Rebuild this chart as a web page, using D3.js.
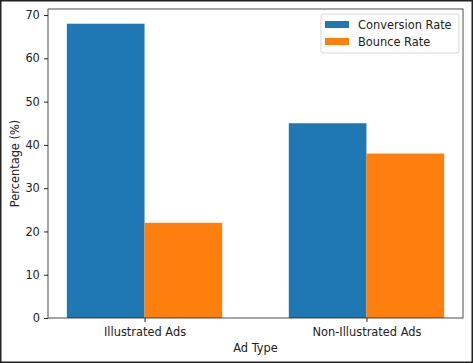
<!DOCTYPE html>
<html>
<head>
<meta charset="utf-8">
<script src="https://cdn.jsdelivr.net/npm/d3@7"></script>
<style>
  body { margin: 0; background: #fff; }
  svg { display: block; font-family: "DejaVu Sans", sans-serif; }
</style>
</head>
<body>
<svg id="chart" width="473" height="363"></svg>
<script>
// 数据
const adTypes = ["Illustrated Ads", "Non-Illustrated Ads"];
const seriesNames = ["Conversion Rate", "Bounce Rate"];
const conversionRate = [68, 45];
const bounceRate = [22, 38];
const yTicks = [0, 10, 20, 30, 40, 50, 60, 70];

const colors = ["#1f77b4", "#ff7f0e"];
const W = 473, H = 363;
const FS = 11.4;
const margin = { left: 48, right: 10, top: 9, bottom: 45 };
const plotW = W - margin.left - margin.right;
const plotH = H - margin.top - margin.bottom;

const svg = d3.select("#chart");

// 外框
svg.append("rect")
    .attr("x", 0.75).attr("y", 0.75)
    .attr("width", W - 1.5).attr("height", H - 1.5)
    .attr("fill", "white")
    .attr("stroke", "#222")
    .attr("stroke-width", 1.5);

const g = svg.append("g")
    .attr("transform", `translate(${margin.left},${margin.top})`);

// 比例尺 (matplotlib 风格: 每组宽 0.35, 5% 边距)
const barW = 0.35;
const x = d3.scaleLinear().domain([-0.435, 1.435]).range([0, plotW]);
const yMax = 68 * 1.05;
const y = d3.scaleLinear().domain([0, yMax]).range([plotH, 0]);

const series = [conversionRate, bounceRate];
series.forEach((vals, si) => {
    g.selectAll(".bar-" + si)
        .data(vals)
        .enter()
        .append("rect")
        .attr("x", (d, i) => x(i - barW + si * barW))
        .attr("y", d => y(d))
        .attr("width", x(barW) - x(0))
        .attr("height", d => y(0) - y(d))
        .attr("fill", colors[si]);
});

// 坐标轴
const xAxis = d3.axisBottom(x)
    .tickValues([0, 1])
    .tickFormat(i => adTypes[i])
    .tickSize(4)
    .tickSizeOuter(0);
const yAxis = d3.axisLeft(y)
    .tickValues(yTicks)
    .tickSize(4)
    .tickSizeOuter(0);

const gx = g.append("g").attr("transform", `translate(0,${plotH})`).call(xAxis);
const gy = g.append("g").call(yAxis);
[gx, gy].forEach(a => {
    a.selectAll("text").attr("font-size", FS).attr("fill", "#222")
        .attr("font-family", "DejaVu Sans");
    a.selectAll(".tick line").attr("stroke", "#222");
    a.select(".domain").remove();
});
gx.selectAll("text").attr("dy", "0.95em");
gy.selectAll("text").attr("dx", "-0.1em");

// 边框 spine
g.append("rect")
    .attr("width", plotW).attr("height", plotH)
    .attr("fill", "none")
    .attr("stroke", "#222")
    .attr("stroke-width", 0.8);

// 轴标题
svg.append("text")
    .attr("x", margin.left + plotW / 2)
    .attr("y", 352)
    .attr("text-anchor", "middle")
    .attr("font-size", FS)
    .attr("fill", "#222")
    .text("Ad Type");
svg.append("text")
    .attr("transform", `translate(19,${margin.top + plotH / 2}) rotate(-90)`)
    .attr("text-anchor", "middle")
    .attr("font-size", FS)
    .attr("fill", "#222")
    .text("Percentage (%)");

// 图例
const lg = g.append("g").attr("transform", `translate(${plotW - 142},5)`);
lg.append("rect")
    .attr("width", 138).attr("height", 39)
    .attr("rx", 2)
    .attr("fill", "white").attr("fill-opacity", 0.8)
    .attr("stroke", "#ccc").attr("stroke-width", 0.8);
seriesNames.forEach((name, i) => {
    lg.append("rect")
        .attr("x", 4).attr("y", 7 + i * 17)
        .attr("width", 24).attr("height", 7)
        .attr("fill", colors[i]);
    lg.append("text")
        .attr("x", 37).attr("y", 15 + i * 17)
        .attr("font-size", FS)
        .attr("fill", "#222")
        .text(name);
});
</script>
</body>
</html>
